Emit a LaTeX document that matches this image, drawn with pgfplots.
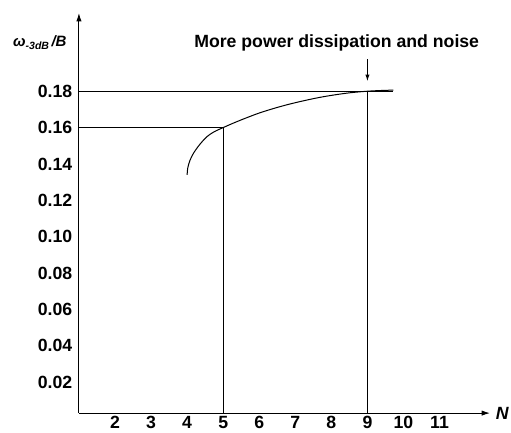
\documentclass[border=0pt]{standalone}
\usepackage{fontspec}
\setmainfont{Liberation Sans}
\usepackage{pgfplots}
\pgfplotsset{compat=1.18}
\usetikzlibrary{arrows.meta}

\begin{document}
\begin{tikzpicture}
\begin{axis}[
  scale only axis, width=246.6pt, height=240pt,
  xmin=1, xmax=12.4, ymin=0.003, ymax=0.223,
  axis lines=left, clip=false,
  axis line style={line width=0.6pt, -{Latex[length=5pt,width=3.2pt]}},
  major tick length=0pt,
  xtick={2,3,4,5,6,7,8,9,10,11},
  ytick={0.02,0.04,0.06,0.08,0.10,0.12,0.14,0.16,0.18},
  scaled y ticks=false,
  /pgf/number format/assume math mode=true,
  tick label style={font=\fontsize{10.6}{12}\selectfont\bfseries},
  yticklabel style={/pgf/number format/fixed, /pgf/number format/fixed zerofill, /pgf/number format/precision=2, xshift=-0.5pt},
  xticklabel style={yshift=1.5pt},
]
% curve
\addplot[black, line width=0.6pt, smooth] coordinates {
  (4.0,0.134)(4.02,0.138)(4.08,0.142)(4.18,0.146)(4.35,0.1507)(4.55,0.155)
  (4.75,0.1577)(5.0,0.160)(5.3,0.1626)(5.65,0.1654)(6.0,0.1680)(6.4,0.1705)
  (6.8,0.1727)(7.2,0.1746)(7.6,0.1763)(8.0,0.1777)(8.5,0.1791)(9.0,0.1800)
  (9.4,0.1804)(9.72,0.1806)};
% reference lines
\addplot[black, line width=0.6pt] coordinates {(1,0.16)(5,0.16)(5,0.003)};
\addplot[black, line width=0.6pt] coordinates {(1,0.18)(9.72,0.18)};
\addplot[black, line width=0.6pt] coordinates {(9,0.18)(9,0.003)};
\draw[line width=0.6pt, -{Latex[length=4pt,width=2.6pt]}] (axis cs:9,0.1975) -- (axis cs:9,0.1855);
\node[font=\fontsize{10.6}{12}\selectfont\bfseries] at (rel axis cs:0.627,0.925) {More power dissipation and noise};
\node[font=\fontsize{9}{10}\selectfont\bfseries\itshape] at (rel axis cs:-0.095,0.925) {ω\raisebox{-0.4ex}{\fontsize{6.3}{7}\selectfont -3dB}\,/B};
\node[font=\fontsize{10.6}{12}\selectfont\bfseries\itshape, anchor=west] at (rel axis cs:1.0,0) {N};
\coordinate (bl) at (rel axis cs:-0.192,-0.0475);
\coordinate (tr) at (rel axis cs:1.051,1.0325);
\end{axis}
\pgfresetboundingbox
\path[use as bounding box] (bl) rectangle (tr);
\end{tikzpicture}
\end{document}
